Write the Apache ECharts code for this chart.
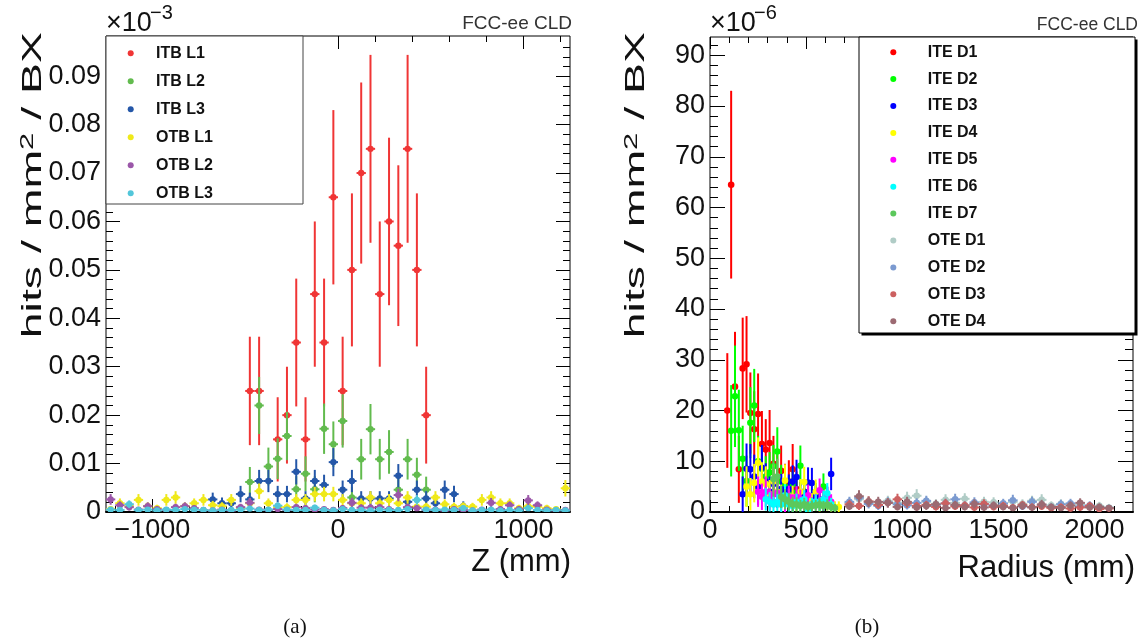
<!DOCTYPE html>
<html><head><meta charset="utf-8">
<script src="https://cdn.jsdelivr.net/npm/echarts@6/dist/echarts.min.js"></script>
<style>html,body{margin:0;padding:0;background:#fff}#c{width:1142px;height:641px}</style>
</head><body><div id="c"></div>
<script>
// ---------------- Left panel (Z) data: [z (mm), value (x1e-3 hits/mm2/BX), error] ----------------
const itbL1 = [[-475,0.025,0.0112],[-425,0.025,0.0112],[-325,0.015,0.0087],[-275,0.020,0.010],[-225,0.035,0.0132],[-175,0.015,0.0087],[-125,0.045,0.015],[-75,0.035,0.0132],[-25,0.065,0.018],[25,0.025,0.0112],[75,0.050,0.0158],[125,0.070,0.0187],[175,0.075,0.0194],[225,0.045,0.015],[275,0.060,0.0173],[325,0.055,0.0166],[375,0.075,0.0194],[425,0.050,0.0158],[475,0.020,0.010]];
const itbL2 = [[-475,0.0062,0.0031],[-425,0.022,0.0059],[-375,0.0094,0.0039],[-325,0.0110,0.0042],[-275,0.0157,0.0050],[-225,0.0047,0.0027],[-175,0.0079,0.0036],[-125,0.0047,0.0027],[-75,0.0172,0.0052],[-25,0.0140,0.0047],[25,0.0188,0.0055],[75,0.0030,0.0022],[125,0.0109,0.0042],[175,0.0171,0.0052],[225,0.0109,0.0042],[275,0.0124,0.0045],[325,0.0046,0.0027],[375,0.0109,0.0042],[425,0.0077,0.0035],[475,0.0046,0.0027]];
const itbL3 = [[-675,0.0026,0.0014],[-625,0.0018,0.0012],[-575,0.0018,0.0012],[-525,0.0037,0.0017],[-475,0.0026,0.0014],[-425,0.0064,0.0023],[-375,0.0064,0.0023],[-325,0.0037,0.0017],[-275,0.0037,0.0017],[-225,0.0083,0.0026],[-175,0.0028,0.0015],[-125,0.0064,0.0023],[-75,0.0056,0.0021],[-25,0.0103,0.0029],[25,0.0046,0.0019],[75,0.0064,0.0023],[125,0.0028,0.0015],[175,0.0028,0.0015],[225,0.0028,0.0015],[275,0.0028,0.0015],[325,0.0075,0.0024],[375,0.0021,0.0013],[425,0.0046,0.0019],[475,0.0028,0.0015],[525,0.0018,0.0012],[575,0.0046,0.0019],[625,0.0037,0.0017],[675,0.0012,0.0010]];
const otbL1 = [[-1225,0.0006,0.0006],[-1175,0.0018,0.0010],[-1125,0.0012,0.0008],[-1075,0.0025,0.0012],[-1025,0.0012,0.0008],[-975,0.0008,0.0007],[-925,0.0025,0.0012],[-875,0.0030,0.0013],[-825,0.0012,0.0008],[-775,0.0018,0.0010],[-725,0.0025,0.0012],[-675,0.0014,0.0009],[-625,0.0012,0.0008],[-575,0.0025,0.0012],[-525,0.0008,0.0007],[-475,0.0018,0.0010],[-425,0.0043,0.0016],[-375,0.0018,0.0010],[-325,0.0010,0.0008],[-275,0.0010,0.0008],[-225,0.0025,0.0012],[-175,0.0025,0.0012],[-125,0.0037,0.0015],[-75,0.0037,0.0015],[-25,0.0037,0.0015],[25,0.0025,0.0012],[75,0.0018,0.0010],[125,0.0018,0.0010],[175,0.0030,0.0013],[225,0.0018,0.0010],[275,0.0025,0.0012],[325,0.0018,0.0010],[375,0.0030,0.0013],[425,0.0011,0.0008],[475,0.0011,0.0008],[525,0.0030,0.0013],[575,0.0016,0.0010],[625,0.0011,0.0008],[675,0.0012,0.0008],[725,0.0011,0.0008],[775,0.0025,0.0012],[825,0.0030,0.0013],[875,0.0018,0.0010],[925,0.0018,0.0010],[975,0.0008,0.0007],[1025,0.0012,0.0008],[1075,0.0011,0.0008],[1125,0.0008,0.0007],[1175,0.0006,0.0006],[1225,0.0049,0.0017]];
const otbL2 = [[-1225,0.0026,0.0011],[-1175,0.0014,0.0008],[-1125,0.0010,0.0007],[-1075,0.0005,0.0005],[-1025,0.0012,0.0008],[-975,0.0006,0.0005],[-925,0.0004,0.0004],[-875,0.0010,0.0007],[-825,0.0012,0.0008],[-775,0.0008,0.0006],[-725,0.0004,0.0004],[-675,0.0003,0.0004],[-625,0.0005,0.0005],[-575,0.0003,0.0004],[-525,0.0010,0.0007],[-475,0.0019,0.0010],[-425,0.0005,0.0005],[-375,0.0004,0.0004],[-325,0.0006,0.0005],[-275,0.0004,0.0004],[-225,0.0010,0.0007],[-175,0.0008,0.0006],[-125,0.0005,0.0005],[-75,0.0006,0.0005],[-25,0.0004,0.0004],[25,0.0008,0.0006],[75,0.0019,0.0010],[125,0.0009,0.0007],[175,0.0009,0.0007],[225,0.0010,0.0007],[275,0.0006,0.0005],[325,0.0035,0.0013],[375,0.0010,0.0007],[425,0.0008,0.0006],[475,0.0004,0.0004],[525,0.0005,0.0005],[575,0.0003,0.0004],[625,0.0006,0.0005],[675,0.0004,0.0004],[725,0.0003,0.0004],[775,0.0005,0.0005],[825,0.0019,0.0010],[875,0.0006,0.0005],[925,0.0014,0.0008],[975,0.0006,0.0005],[1025,0.0024,0.0011],[1075,0.0014,0.0008],[1125,0.0005,0.0005],[1175,0.0003,0.0004],[1225,0.0004,0.0004]];
const otbL3 = [[-1225,0.0005,0.0004],[-1175,0.0004,0.0004],[-1125,0.0016,0.0008],[-1075,0.0004,0.0004],[-1025,0.0005,0.0004],[-975,0.0003,0.0003],[-925,0.0005,0.0004],[-875,0.0004,0.0004],[-825,0.0006,0.0005],[-775,0.0005,0.0004],[-725,0.0004,0.0004],[-675,0.0003,0.0003],[-625,0.0004,0.0004],[-575,0.0004,0.0004],[-525,0.0005,0.0004],[-475,0.0007,0.0005],[-425,0.0004,0.0004],[-375,0.0005,0.0004],[-325,0.0013,0.0007],[-275,0.0005,0.0004],[-225,0.0004,0.0004],[-175,0.0004,0.0004],[-125,0.0009,0.0006],[-75,0.0004,0.0004],[-25,0.0003,0.0003],[25,0.0006,0.0005],[75,0.0004,0.0004],[125,0.0004,0.0004],[175,0.0003,0.0003],[225,0.0005,0.0004],[275,0.0004,0.0004],[325,0.0004,0.0004],[375,0.0006,0.0005],[425,0.0025,0.0010],[475,0.0005,0.0004],[525,0.0004,0.0004],[575,0.0005,0.0004],[625,0.0004,0.0004],[675,0.0008,0.0005],[725,0.0003,0.0003],[775,0.0004,0.0004],[825,0.0005,0.0004],[875,0.0003,0.0003],[925,0.0004,0.0004],[975,0.0003,0.0003],[1025,0.0008,0.0005],[1075,0.0004,0.0004],[1125,0.0003,0.0003],[1175,0.0004,0.0004],[1225,0.0003,0.0003]];

// ---------------- Right panel (Radius) data: [r (mm), value (x1e-6 hits/mm2/BX), error] ----------------
const iteD1 = [[90,20,11.3],[110,64.5,18.5],[130,24.7,10.8],[150,8.4,6.6],[170,28.3,10],[190,29.1,9.5],[210,19.5,8],[230,16.3,7.5],[250,19.3,8],[270,13.4,6.5],[290,12.3,6],[310,13.6,6.5],[330,9.5,5.5],[350,6.8,4.5],[370,8.1,5],[390,5.5,4],[410,6,4.2],[430,8.4,5],[450,4.5,3.5]];
const iteD2 = [[110,16,9],[130,22.8,10],[150,16.1,8],[170,10.5,6.5],[190,6.1,5],[210,17.6,7],[230,21,7.2],[250,10,5],[270,8.5,4.5],[290,7,4],[310,7.8,4],[330,9,4.2],[350,11.9,4.8],[370,6,3.3],[390,5,3],[410,4.2,2.8],[430,5.5,3],[450,3.8,2.6],[470,9.1,4],[490,4,2.5],[510,3,2.2],[530,2.5,2],[550,3.5,2.2],[570,2,1.8],[590,5,2.6]];
const iteD3 = [[170,3.5,3.5],[190,8.5,5],[210,8.4,5],[230,7,4.3],[250,5,3.6],[270,8.7,4.5],[290,6,3.6],[310,4,3],[330,5.5,3.4],[350,3.5,2.7],[370,4.5,3],[390,3.8,2.7],[410,4.5,2.9],[430,6,3.2],[450,6.9,3.4],[470,3.5,2.4],[490,4,2.5],[510,5.8,3],[530,5.7,3],[550,3,2.2],[570,2.5,2],[590,2,1.8],[610,3,2],[630,7.5,3.2]];
const iteD4 = [[190,5,4],[210,3.5,3.2],[230,5.7,3.8],[250,9.7,5],[270,6,3.8],[290,5.5,3.5],[310,3.5,2.8],[330,6,3.4],[350,4,2.8],[370,3,2.4],[390,6.2,3.2],[410,2.5,2.1],[430,3,2.2],[450,2,1.8],[470,4,2.5],[490,5.9,3],[510,3,2.1],[530,2,1.7],[550,4,2.4],[570,1.5,1.4],[590,2.5,1.8],[610,1.8,1.5],[630,1.5,1.4],[650,1,1.1],[670,1,1.1]];
const iteD5 = [[250,4,3],[270,3,2.6],[290,4,3],[310,2.5,2.2],[330,3.5,2.6],[350,3.8,2.7],[370,2,1.9],[390,1.8,1.8],[410,3,2.2],[430,1.8,1.7],[450,3,2.1],[470,2.5,1.9],[490,2,1.7],[510,3.3,2.1],[530,1.5,1.4],[550,2,1.6],[570,4.3,2.3],[590,2.5,1.8],[610,3,1.9],[630,2,1.5]];
const iteD6 = [[290,2.5,2.2],[310,2,1.9],[330,1.5,1.6],[350,2,1.8],[370,1.5,1.5],[390,3.3,2.2],[410,1.5,1.4],[430,1.2,1.3],[450,2,1.6],[470,1.5,1.4],[490,2.5,1.8],[510,0.3,0.6],[530,1.5,1.3],[550,2,1.5],[570,1.5,1.3],[590,2.5,1.7],[610,3.7,2],[630,1.5,1.3]];
const iteD7 = [[330,6.5,3.5],[350,7,3.5],[370,3,2.2],[390,2.5,2],[410,2,1.7],[430,1.5,1.5],[450,1.5,1.4],[470,1.2,1.2],[490,1.5,1.3],[510,1,1.1],[530,1.2,1.1],[550,1.3,1.1],[570,1.5,1.2],[590,1.2,1],[610,1.4,1.1],[630,1,0.9],[650,0.8,0.8]];
const oteR = [725,775,825,875,925,975,1025,1075,1125,1175,1225,1275,1325,1375,1425,1475,1525,1575,1625,1675,1725,1775,1825,1875,1925,1975,2025,2075];
const oteD1Val = [1.8,2.5,2.0,1.5,2.2,1.8,2.8,3.2,2.0,1.6,2.4,1.8,2.6,1.5,2.0,1.9,1.4,2.0,1.6,2.2,2.4,1.3,1.6,1.2,1.5,1.1,1.2,0.9];
const oteD1Err = [0.9,1.1,1.0,0.9,1.0,0.9,1.2,1.3,1.0,0.9,1.1,0.9,1.1,0.9,1.0,1.0,0.8,1.0,0.9,1.0,1.1,0.8,0.9,0.8,0.9,0.7,0.8,0.7];
const oteD2Val = [2.0,2.8,1.6,1.2,1.9,1.5,1.3,1.8,2.2,1.4,1.7,2.5,1.3,1.9,1.5,1.2,1.7,2.3,1.1,2.0,1.4,1.0,1.5,1.7,1.1,1.3,0.9,0.8];
const oteD2Err = [1.0,1.2,0.9,0.8,1.0,0.9,0.8,0.9,1.0,0.8,0.9,1.1,0.8,1.0,0.9,0.8,0.9,1.1,0.7,1.0,0.8,0.7,0.9,0.9,0.7,0.8,0.7,0.6];
const oteD3Val = [1.5,1.2,2.1,1.4,1.8,2.5,1.7,1.2,1.4,1.0,1.7,1.1,1.3,0.9,1.6,1.0,1.2,0.9,1.4,1.0,1.1,0.8,1.0,0.7,0.9,1.2,0.6,0.7];
const oteD3Err = [0.9,0.8,1.0,0.8,0.9,1.1,0.9,0.8,0.8,0.7,0.9,0.7,0.8,0.7,0.9,0.7,0.8,0.7,0.8,0.7,0.7,0.6,0.7,0.6,0.7,0.8,0.5,0.6];
const oteD4Val = [1.1,3.1,2.0,2.0,1.8,1.0,2.0,0.9,1.2,1.5,0.8,1.4,1.0,1.6,0.9,1.3,1.0,0.8,1.2,0.9,1.5,1.0,0.8,1.3,1.8,0.9,1.0,0.8];
const oteD4Err = [0.7,1.2,1.0,1.0,0.9,0.7,1.0,0.7,0.8,0.9,0.6,0.8,0.7,0.9,0.7,0.8,0.7,0.6,0.8,0.7,0.9,0.7,0.6,0.8,0.9,0.7,0.7,0.6];

// ---------------- Ticks / labels ----------------
const leftXMajor = [-1000, 0, 1000];
const leftXMinor = [-1200,-1000,-800,-600,-400,-200,0,200,400,600,800,1000,1200];
const leftYMajor = [0,0.01,0.02,0.03,0.04,0.05,0.06,0.07,0.08,0.09];
const leftYMinor = [0,0.002,0.004,0.006,0.008,0.01,0.012,0.014,0.016,0.018,0.02,0.022,0.024,0.026,0.028,0.03,0.032,0.034,0.036,0.038,0.04,0.042,0.044,0.046,0.048,0.05,0.052,0.054,0.056,0.058,0.06,0.062,0.064,0.066,0.068,0.07,0.072,0.074,0.076,0.078,0.08,0.082,0.084,0.086,0.088,0.09,0.092,0.094,0.096];
const rightXMajor = [0,500,1000,1500,2000];
const rightXMinor = [0,100,200,300,400,500,600,700,800,900,1000,1100,1200,1300,1400,1500,1600,1700,1800,1900,2000,2100];
const rightYMajor = [0,10,20,30,40,50,60,70,80,90];
const rightYMinor = [0,2,4,6,8,10,12,14,16,18,20,22,24,26,28,30,32,34,36,38,40,42,44,46,48,50,52,54,56,58,60,62,64,66,68,70,72,74,76,78,80,82,84,86,88,90,92];

const leftNames = ['ITB L1','ITB L2','ITB L3','OTB L1','OTB L2','OTB L3'];
const leftColors = ['#f03535','#62bb4e','#2457a8','#efe91a','#9b57a9','#52c6da'];
const rightNames = ['ITE D1','ITE D2','ITE D3','ITE D4','ITE D5','ITE D6','ITE D7','OTE D1','OTE D2','OTE D3','OTE D4'];
const rightColors = ['#ff0000','#00ff00','#0000ff','#ffff00','#ff00ff','#00ffff','#5cc85c','#b0ccc6','#7b9ad0','#cc6060','#9c6a72'];

const FONT = 'Liberation Sans, Arial, Helvetica, sans-serif';

function zip(r, v, e) { return r.map((x, i) => [x, v[i], e[i]]); }

function errSeries(name, color, data, xi, yi, hw, rad, lw) {
  return {
    type: 'custom', name: name, xAxisIndex: xi, yAxisIndex: yi, clip: true,
    itemStyle: { color: color }, data: data, encode: { x: 0, y: 1 },
    renderItem: function (params, api) {
      const x = api.value(0), y = api.value(1), e = api.value(2);
      const c = api.coord([x, y]);
      const t = api.coord([x, y + e]);
      const b = api.coord([x, y - e]);
      const l = api.coord([x - hw, y]);
      const r = api.coord([x + hw, y]);
      return { type: 'group', children: [
        { type: 'line', shape: { x1: c[0], y1: t[1], x2: c[0], y2: b[1] }, style: { stroke: color, lineWidth: lw } },
        { type: 'line', shape: { x1: l[0], y1: c[1], x2: r[0], y2: c[1] }, style: { stroke: color, lineWidth: lw } },
        { type: 'circle', shape: { cx: c[0], cy: c[1], r: rad }, style: { fill: color } }
      ]};
    }
  };
}

function tickAxis(grid, pos, min, max, ticks, len, labels, fmt, lineW) {
  const ax = {
    type: 'value', gridIndex: grid, position: pos, min: min, max: max,
    axisLine: { show: !!lineW, onZero: false, lineStyle: { color: '#000', width: lineW || 1 } },
    splitLine: { show: false },
    axisTick: { show: true, inside: true, length: len, customValues: ticks, lineStyle: { color: '#000', width: 1 } },
    axisLabel: { show: false },
    axisPointer: { show: false }
  };
  if (labels) {
    ax.axisLabel = { show: true, customValues: labels, formatter: fmt, fontSize: 27, color: '#111', fontFamily: FONT, margin: 5 };
  }
  return ax;
}

const fmtLX = v => v < 0 ? '\u2212' + (-v) : String(v);
const fmtLY = v => v === 0 ? '0' : v.toFixed(2);
const fmtR = v => String(v);

const xAxes = [
  tickAxis(0, 'bottom', -1250, 1250, leftXMajor, 13, leftXMajor, fmtLX, 2),
  tickAxis(0, 'bottom', -1250, 1250, leftXMinor, 6),
  tickAxis(0, 'top', -1250, 1250, leftXMajor, 13),
  tickAxis(0, 'top', -1250, 1250, leftXMinor, 6),
  tickAxis(1, 'bottom', 0, 2200, rightXMajor, 12, rightXMajor, fmtR, 2),
  tickAxis(1, 'bottom', 0, 2200, rightXMinor, 6),
  tickAxis(1, 'top', 0, 2200, rightXMajor, 12),
  tickAxis(1, 'top', 0, 2200, rightXMinor, 6)
];
const yAxes = [
  tickAxis(0, 'left', 0, 0.0983, leftYMajor, 14, leftYMajor, fmtLY),
  tickAxis(0, 'left', 0, 0.0983, leftYMinor, 7),
  tickAxis(0, 'right', 0, 0.0983, leftYMajor, 14),
  tickAxis(0, 'right', 0, 0.0983, leftYMinor, 7),
  tickAxis(1, 'left', 0, 93.6, rightYMajor, 15, rightYMajor, fmtR),
  tickAxis(1, 'left', 0, 93.6, rightYMinor, 8),
  tickAxis(1, 'right', 0, 93.6, rightYMajor, 15),
  tickAxis(1, 'right', 0, 93.6, rightYMinor, 8)
];

const leftData = [itbL1, itbL2, itbL3, otbL1, otbL2, otbL3];
const rightData = [iteD1, iteD2, iteD3, iteD4, iteD5, iteD6, iteD7,
  zip(oteR, oteD1Val, oteD1Err), zip(oteR, oteD2Val, oteD2Err), zip(oteR, oteD3Val, oteD3Err), zip(oteR, oteD4Val, oteD4Err)];

const series = [];
leftNames.forEach((n, i) => series.push(errSeries(n, leftColors[i], leftData[i], 0, 0, 25, 3.2, 2)));
rightNames.forEach((n, i) => series.push(errSeries(n, rightColors[i], rightData[i], 4, 4, i < 7 ? 10 : 25, 3.3, 2)));

const legendText = { fontSize: 16, fontWeight: 'bold', color: '#111', fontFamily: FONT, lineHeight: 20 };

function txt(x, y, s, size, opts) {
  return Object.assign({ type: 'text', x: x, y: y, z: 30,
    style: Object.assign({ text: s, fontSize: size, fontFamily: FONT, fill: '#111', textAlign: 'left', textVerticalAlign: 'middle' }, opts || {}) });
}

function yTitle(x) {
  const rich = { a: { fontSize: 27, fontFamily: FONT, fill: '#111' }, s: { fontSize: 18, fontFamily: FONT, fill: '#111', verticalAlign: 'top', padding: [0, 0, 10, 0] } };
  return Object.assign(txt(x, 32, '{a|hits / mm}{s|2}{a| / BX}', 27, { textAlign: 'right', rich: rich }),
    { rotation: Math.PI / 2, scaleX: 1.72, scaleY: 1 });
}

const graphic = [
  { type: 'rect', z: 10, shape: { x: 106, y: 36, width: 197, height: 168 }, style: { fill: '#fff', stroke: '#444', lineWidth: 1 } },
  { type: 'rect', z: 9, shape: { x: 861.5, y: 39.5, width: 276, height: 296 }, style: { fill: '#000' } },
  { type: 'rect', z: 10, shape: { x: 859, y: 37, width: 276, height: 296 }, style: { fill: '#fff', stroke: '#000', lineWidth: 1 } },
  txt(106, 24, '\u00d710', 27),
  txt(150, 13, '\u22123', 20),
  txt(710, 24, '\u00d710', 27),
  txt(754, 13, '\u22126', 20),
  txt(572, 23.5, 'FCC-ee CLD', 19, { textAlign: 'right', fill: '#333' }),
  txt(1138, 25.5, 'FCC-ee CLD', 17.5, { textAlign: 'right', fill: '#333' }),
  txt(571, 562, 'Z (mm)', 31, { textAlign: 'right' }),
  txt(1135, 568, 'Radius (mm)', 31, { textAlign: 'right' }),
  yTitle(33.5),
  yTitle(637),
  txt(295, 627, '(a)', 21, { textAlign: 'center', fontFamily: 'Liberation Serif, Times New Roman, serif' }),
  txt(867, 627, '(b)', 21, { textAlign: 'center', fontFamily: 'Liberation Serif, Times New Roman, serif' })
];

const chart = echarts.init(document.getElementById('c'), null, { renderer: 'canvas' });
chart.setOption({
  animation: false,
  backgroundColor: '#fff',
  grid: [
    { left: 106, top: 36, width: 464, height: 476, show: true, borderColor: '#000', borderWidth: 1, backgroundColor: 'transparent' },
    { left: 710, top: 37, width: 423, height: 475, show: true, borderColor: '#000', borderWidth: 1, backgroundColor: 'transparent' }
  ],
  xAxis: xAxes,
  yAxis: yAxes,
  legend: [
    { data: leftNames, orient: 'vertical', left: 127.7, top: 43.2, itemWidth: 40.6, itemHeight: 6, itemGap: 8, icon: 'circle', padding: 0, selectedMode: false, textStyle: legendText, z: 20 },
    { data: rightNames, orient: 'vertical', left: 890.3, top: 42.2, itemWidth: 58.8, itemHeight: 6, itemGap: 6.9, icon: 'circle', padding: 0, selectedMode: false, textStyle: legendText, z: 20 }
  ],
  graphic: graphic,
  series: series
});
</script></body></html>
